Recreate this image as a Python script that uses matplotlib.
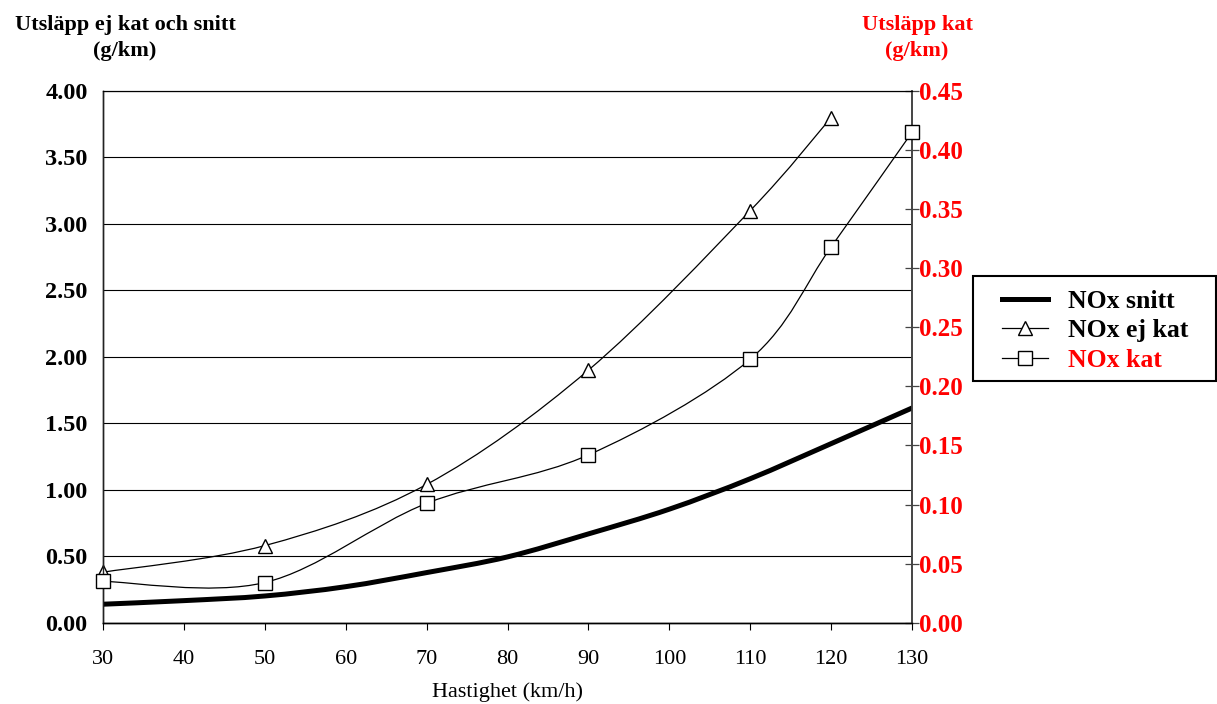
import numpy as np
import matplotlib
matplotlib.use("Agg")
import matplotlib.pyplot as plt
from matplotlib.path import Path
from matplotlib.patches import PathPatch, Rectangle
from matplotlib.lines import Line2D
from matplotlib.ticker import FormatStrFormatter

plt.rcParams['font.family'] = ['Liberation Serif', 'DejaVu Serif']

# ---- data ----
speed_snitt = [30, 40, 50, 60, 70, 80, 90, 100, 110, 120, 130]
nox_snitt = [0.139, 0.166, 0.201, 0.271, 0.377, 0.495, 0.668, 0.854, 1.083, 1.347, 1.615]

speed_ejkat = [30, 50, 70, 90, 110, 120]
nox_ejkat = [0.38, 0.58, 1.04, 1.90, 3.10, 3.80]

speed_kat = [30, 50, 70, 90, 110, 120, 130]
nox_kat = [0.035, 0.034, 0.101, 0.142, 0.223, 0.318, 0.415]

x_ticks = [30, 40, 50, 60, 70, 80, 90, 100, 110, 120, 130]
left_ticks = [0.0, 0.5, 1.0, 1.5, 2.0, 2.5, 3.0, 3.5, 4.0]
right_ticks = [0.0, 0.05, 0.10, 0.15, 0.20, 0.25, 0.30, 0.35, 0.40, 0.45]
labels = ["NOx snitt", "NOx ej kat", "NOx kat"]

RED = '#FF0000'


def smooth_path(xs, ys):
    """Excel-style smoothed line as cubic Bezier path in data coords."""
    p = np.column_stack([xs, ys]).astype(float)
    n = len(p)
    verts = [p[0]]
    codes = [Path.MOVETO]
    for i in range(n - 1):
        p0 = p[i - 1] if i > 0 else p[i]
        p1 = p[i]
        p2 = p[i + 1]
        p3 = p[i + 2] if i + 2 < n else p[i + 1]
        c1 = p1 + (p2 - p0) / 6.0
        c2 = p2 - (p3 - p1) / 6.0
        verts += [c1, c2, p2]
        codes += [Path.CURVE4] * 3
    return Path(verts, codes)


W, H = 1217, 704
fig = plt.figure(figsize=(W / 100, H / 100), dpi=100)
L, R, T, B = 103, 912, 91, 622.7
ax = fig.add_axes([L / W, 1 - B / H, (R - L) / W, (B - T) / H])
ax2 = ax.twinx()

ax.set_xlim(30, 130)
ax.set_ylim(0, 4.0)
ax2.set_ylim(0, 0.45)

# grid
ax.set_yticks(left_ticks)
ax.yaxis.grid(True, color='black', linewidth=0.8)
ax.set_axisbelow(True)
ax.yaxis.set_major_formatter(FormatStrFormatter('%.2f'))
ax.tick_params(axis='y', length=0, pad=11, labelsize=17.5)
for t in ax.get_yticklabels():
    t.set_fontweight('bold')

ax.set_xticks(x_ticks)
ax.tick_params(axis='x', direction='out', length=5, width=0.8, pad=14.5, labelsize=16)

ax2.set_yticks(right_ticks)
ax2.yaxis.set_major_formatter(FormatStrFormatter('%.2f'))
ax2.tick_params(axis='y', direction='inout', length=9.5, width=0.9, pad=0.5,
                labelsize=18, labelcolor=RED, color='#444444')
for t in ax2.get_yticklabels():
    t.set_fontweight('bold')

for a in (ax, ax2):
    a.spines['top'].set_linewidth(0.8)
    a.spines['left'].set_linewidth(1.0)
    a.spines['bottom'].set_linewidth(1.0)
    a.spines['right'].set_linewidth(1.2)
    a.spines['right'].set_color('#444444')
    a.spines['left'].set_color('#222222')

# series
ax.add_patch(PathPatch(smooth_path(speed_snitt, nox_snitt), fill=False,
                       edgecolor='black', linewidth=3.6, capstyle='round',
                       joinstyle='round', zorder=3))
ax.add_patch(PathPatch(smooth_path(speed_ejkat, nox_ejkat), fill=False,
                       edgecolor='black', linewidth=0.9, zorder=3))
ax.plot(speed_ejkat, nox_ejkat, linestyle='none', marker='^', markersize=10.5,
        markerfacecolor='white', markeredgecolor='black', markeredgewidth=1.0,
        zorder=4, clip_on=False)
ax2.add_patch(PathPatch(smooth_path(speed_kat, nox_kat), fill=False,
                        edgecolor='black', linewidth=0.9, zorder=3))
ax2.plot(speed_kat, nox_kat, linestyle='none', marker='s', markersize=9.5,
         markerfacecolor='white', markeredgecolor='black', markeredgewidth=1.0,
         zorder=4, clip_on=False)

# axis titles
bold = dict(fontweight='bold', fontsize=16)
fig.text(125 / W, 1 - 25 / H, "Utsläpp ej kat och snitt", ha='center', va='center', **bold)
fig.text(125 / W, 1 - 51 / H, "(g/km)", ha='center', va='center', **bold)
fig.text(917 / W, 1 - 25 / H, "Utsläpp kat", ha='center', va='center', color=RED, **bold)
fig.text(917 / W, 1 - 51 / H, "(g/km)", ha='center', va='center', color=RED, **bold)
fig.text(507 / W, 1 - 692 / H, "Hastighet (km/h)", ha='center', va='center', fontsize=16)

# legend
fig.patches.append(Rectangle((973 / W, 1 - 381 / H), (1216 - 973) / W, (381 - 276) / H,
                             transform=fig.transFigure, fill=False,
                             edgecolor='black', linewidth=1.5))
handles = [
    Line2D([], [], color='black', linewidth=3.6),
    Line2D([], [], color='black', linewidth=0.9, marker='^', markersize=10.5,
           markerfacecolor='white', markeredgecolor='black'),
    Line2D([], [], color='black', linewidth=0.9, marker='s', markersize=9.5,
           markerfacecolor='white', markeredgecolor='black'),
]
leg = fig.legend(handles, labels, loc='upper left',
                 bbox_to_anchor=(1002 / W, 1 - 290 / H), bbox_transform=fig.transFigure,
                 frameon=False, borderpad=0, borderaxespad=0, handlelength=1.8,
                 handletextpad=0.75, labelspacing=0.25,
                 prop=dict(family='Liberation Serif', weight='bold', size=18.5))
leg.get_texts()[2].set_color(RED)

fig.savefig('out.png', dpi=100)
